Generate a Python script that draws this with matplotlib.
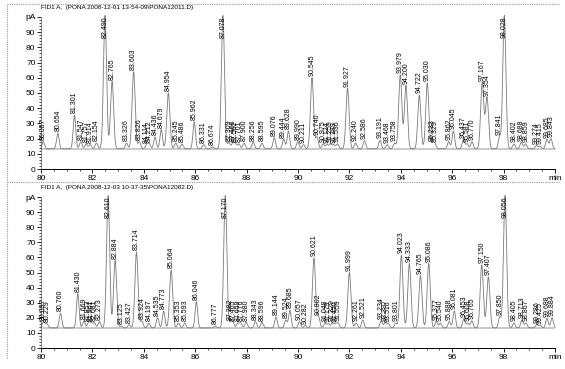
import numpy as np
import matplotlib
matplotlib.use("Agg")
import matplotlib.pyplot as plt
from matplotlib.lines import Line2D

plt.rcParams['font.family'] = ['Liberation Sans Narrow', 'Liberation Sans', 'DejaVu Sans']

# peak tables (retention time in min, height in pA)
top_title = "FID1 A,  (PONA 2008-12-01 13-54-09\\PONA12011.D)"
top_rt = [80.087, 80.654, 81.301, 81.547, 81.757, 81.914, 82.154, 82.490, 82.765, 83.326,
          83.603, 83.826, 84.114, 84.212, 84.436, 84.679, 84.954, 85.245, 85.486, 85.962,
          86.331, 86.674, 87.078, 87.309, 87.466, 87.562, 87.701, 87.900, 88.256, 88.595,
          89.076, 89.444, 89.628, 89.990, 90.211, 90.545, 90.740, 90.975, 91.124, 91.259,
          91.389, 91.536, 91.927, 92.240, 92.586, 93.191, 93.468, 93.758, 93.979, 94.200,
          94.722, 95.030, 95.233, 95.329, 95.862, 96.045, 96.437, 96.581, 96.770, 97.167,
          97.354, 97.841, 98.028, 98.402, 98.688, 98.859, 99.274, 99.415, 99.685, 99.843]
top_h = [18, 23.5, 35.5, 18, 16.5, 16, 17, 101, 57.5, 17,
         64, 18, 16, 16.5, 21, 26, 50, 17, 16.5, 31,
         16, 14.5, 101, 17.5, 17, 16.5, 16.5, 17, 17.5, 17,
         20.5, 19.5, 25, 18, 16, 60, 21, 16.5, 16, 16.5,
         16, 16.5, 53, 17, 18.5, 19, 16, 17, 62, 55,
         48.5, 56.5, 17.5, 16.5, 18, 25, 19.5, 16.5, 18, 57,
         47, 21, 101, 16.5, 17.5, 16.5, 15.5, 15, 19.5, 20]

bot_title = "FID1 A,  (PONA 2008-12-03 10-37-35\\PONA12082.D)"
bot_rt = [80.097, 80.229, 80.760, 81.430, 81.669, 81.853, 81.961, 82.081, 82.273, 82.610,
          82.884, 83.125, 83.427, 83.714, 83.924, 84.197, 84.535, 84.773, 85.064, 85.353,
          85.593, 86.046, 86.777, 87.170, 87.382, 87.465, 87.659, 87.776, 87.980, 88.343,
          88.596, 89.144, 89.524, 89.685, 90.057, 90.282, 90.621, 90.802, 91.048, 91.179,
          91.329, 91.450, 91.559, 91.999, 92.261, 92.521, 93.234, 93.397, 93.516, 93.801,
          94.023, 94.333, 94.765, 95.086, 95.377, 95.540, 95.888, 96.081, 96.453, 96.608,
          96.765, 97.150, 97.407, 97.850, 98.056, 98.405, 98.713, 98.867, 99.286, 99.425,
          99.688, 99.884]
bot_h = [17.5, 16, 23, 36, 18, 17, 16.5, 16.5, 17.5, 101,
         58, 14.5, 15.5, 63.5, 18, 16.5, 20, 24.5, 51.5, 16.5,
         16.5, 30.5, 14.5, 101, 17.5, 17, 16.5, 16.5, 17, 17.5,
         17, 20.5, 18.5, 25, 17.5, 15, 59.5, 20.5, 16.5, 16,
         16.5, 16, 16.5, 50, 16.5, 18.5, 18, 17, 16, 16.5,
         61.5, 56, 48, 56, 17.5, 16.5, 17.5, 24.5, 19.5, 16.5,
         18, 55, 47, 20.5, 101, 16.5, 18.5, 16.5, 15.5, 15,
         19.5, 20]

baseline = 13.3


def trace(rts, hs):
    t = np.linspace(80, 100, 5000)
    y = np.full_like(t, baseline)
    for rt, h in zip(rts, hs):
        s = 0.06 if h > 40 else 0.05
        y += (h - baseline) * np.exp(-0.5 * ((t - rt) / s) ** 2)
    return t, y


def panel(ax, rts, hs, title):
    t, y = trace(rts, hs)
    ax.axhline(baseline, color='#c0c0c0', lw=1.2, zorder=1)
    ax.plot(t, y, color='#7a7a7a', lw=0.6, clip_on=False, zorder=2)
    for rt, h in zip(rts, hs):
        lab = f"{rt:.3f}"
        if h > 95:
            ax.text(rt, 100.5, lab, rotation=90, ha='center', va='top', fontsize=5, zorder=3)
        else:
            ax.text(rt, h + 1.2, lab, rotation=90, ha='center', va='bottom', fontsize=5, zorder=3)
    ax.set_xlim(80, 100)
    ax.set_ylim(0, 100)
    ax.set_xticks(np.arange(80, 101, 2))
    ax.set_xticklabels([str(v) for v in range(80, 100, 2)] + ['min'], fontsize=6)
    ax.set_xticks(np.arange(80, 100.1, 0.5), minor=True)
    ax.set_yticks(np.arange(0, 101, 10))
    ax.set_yticklabels([str(v) for v in range(0, 100, 10)] + ['pA'], fontsize=6)
    ax.set_yticks(np.arange(0, 100.1, 2), minor=True)
    ax.tick_params(axis='both', which='major', length=3, width=0.6, pad=1)
    ax.tick_params(axis='both', which='minor', length=1.5, width=0.5)
    ax.spines['top'].set_visible(False)
    ax.spines['right'].set_visible(False)
    ax.spines['bottom'].set_linewidth(0.7)
    ax.spines['left'].set_linewidth(0.5)
    ax.spines['left'].set_color('#555555')
    ax.patch.set_alpha(0)
    ax.text(0.0, 1.045, title, transform=ax.transAxes, fontsize=4.6, ha='left', va='bottom')


fig = plt.figure(figsize=(5.65, 3.69), dpi=100)
ax1 = fig.add_axes([0.0726, 0.542, 0.9097, 0.412])
ax2 = fig.add_axes([0.0726, 0.0569, 0.9097, 0.409])
panel(ax1, top_rt, top_h, top_title)
panel(ax2, bot_rt, bot_h, bot_title)

# dotted frame lines of the report page
for xs, ys in [([0.012, 0.99], [0.989, 0.989]), ([0.012, 0.99], [0.507, 0.507]),
               ([0.012, 0.012], [0.03, 0.989])]:
    fig.add_artist(Line2D(xs, ys, transform=fig.transFigure, color='#999999',
                          lw=0.8, ls=(0, (1, 1))))

fig.savefig("out.png", dpi=100)
